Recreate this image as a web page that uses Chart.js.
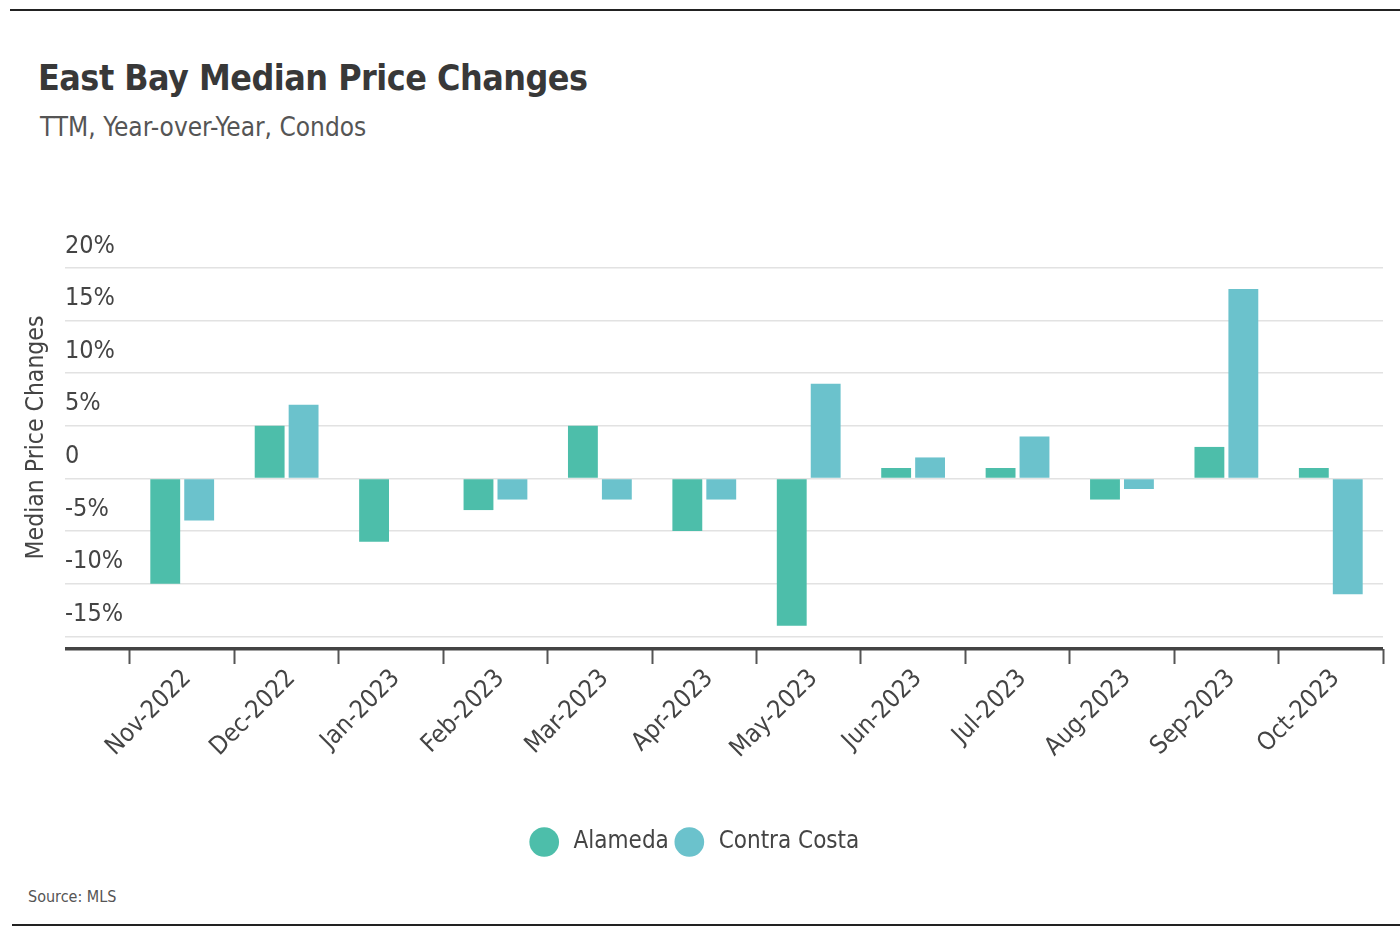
<!DOCTYPE html>
<html>
<head>
<meta charset="utf-8">
<script src="https://cdn.jsdelivr.net/npm/chart.js@4.4.0/dist/chart.umd.min.js"></script>
<style>
  body { margin: 0; background: #fff; font-family: 'DejaVu Sans Condensed', 'DejaVu Sans', sans-serif; }
  #wrap { position: relative; width: 1400px; height: 938px; overflow: hidden; }
  .rule { position: absolute; left: 10px; right: 0; height: 2px; background: #222; }
  #title, #subtitle, #source { position: absolute; line-height: 1; white-space: nowrap; }
  #title { left: 38px; top: 60px; font-size: 35.5px; font-weight: bold; color: #383838; letter-spacing: -0.5px; }
  #subtitle { left: 40px; top: 114px; font-size: 26px; color: #555; }
  #source { left: 28px; top: 889px; font-size: 16px; color: #555; }
  #box { position: absolute; left: 0; top: 170px; width: 1400px; height: 710px; }
</style>
</head>
<body>
<div id="wrap">
  <div class="rule" style="top:9px"></div>
  <div id="title">East Bay Median Price Changes</div>
  <div id="subtitle">TTM, Year-over-Year, Condos</div>
  <div id="box"><canvas id="priceChart"></canvas></div>
  <div id="source">Source: MLS</div>
  <div class="rule" style="top:924px; left:12px"></div>
</div>
<script>
// data
const months = ['Nov-2022', 'Dec-2022', 'Jan-2023', 'Feb-2023', 'Mar-2023', 'Apr-2023',
                'May-2023', 'Jun-2023', 'Jul-2023', 'Aug-2023', 'Sep-2023', 'Oct-2023'];
const alameda = [-10, 5, -6, -3, 5, -5, -14, 1, 1, -2, 3, 1];
const contraCosta = [-4, 7, 0, -2, -2, -2, 9, 2, 4, -1, 18, -11];
const yTicks = [-15, -10, -5, 0, 5, 10, 15, 20];
const yMin = -16.2;
const yMax = 20;

const fontFam = "'DejaVu Sans Condensed', 'DejaVu Sans', sans-serif";
const isBase = ctx => ctx.tick && ctx.tick.value === yMin;

const ctxPrice = document.getElementById('priceChart').getContext('2d');
new Chart(ctxPrice, {
    type: 'bar',
    data: {
        labels: months,
        datasets: [{
            label: 'Alameda',
            data: alameda,
            backgroundColor: '#4dbeaa',
            categoryPercentage: 0.65,
            barPercentage: 0.88
        }, {
            label: 'Contra Costa',
            data: contraCosta,
            backgroundColor: '#6bc2cc',
            categoryPercentage: 0.65,
            barPercentage: 0.88
        }]
    },
    options: {
        responsive: true,
        maintainAspectRatio: false,
        animation: false,
        layout: { padding: { top: 98, left: 10, right: 17, bottom: 16 } },
        plugins: {
            legend: {
                position: 'bottom',
                labels: {
                    usePointStyle: true,
                    pointStyle: 'circle',
                    boxWidth: 21,
                    boxHeight: 21,
                    padding: 10,
                    color: '#444',
                    font: { family: fontFam, size: 24 },
                    // a bit more room between the dot and the name
                    generateLabels: chart => Chart.defaults.plugins.legend.labels.generateLabels(chart)
                        .map(l => Object.assign(l, { text: ' ' + l.text }))
                }
            },
            tooltip: { enabled: false }
        },
        scales: {
            x: {
                border: { display: false },
                grid: {
                    drawOnChartArea: false,
                    tickLength: 15,
                    tickColor: '#555',
                    tickWidth: 2
                },
                ticks: {
                    minRotation: 45,
                    maxRotation: 45,
                    padding: 0,
                    labelOffset: 5,
                    color: '#444',
                    font: { family: fontFam, size: 25 }
                },
                afterFit: s => { s.height = 171; }
            },
            y: {
                min: yMin,
                max: yMax,
                border: { display: false },
                afterBuildTicks: s => {
                    s.ticks = [{ value: yMin }].concat(yTicks.map(v => ({ value: v })));
                },
                afterFit: s => { s.width = 120; },
                grid: {
                    color: ctx => isBase(ctx) ? '#444' : '#e2e2e2',
                    lineWidth: ctx => isBase(ctx) ? 3.5 : 1.5,
                    tickColor: ctx => isBase(ctx) ? '#444' : '#e2e2e2',
                    tickWidth: ctx => isBase(ctx) ? 3.5 : 1.5,
                    tickLength: 65
                },
                ticks: {
                    mirror: true,
                    crossAlign: 'near',
                    padding: -65,
                    labelOffset: -22,
                    color: '#444',
                    font: { family: fontFam, size: 25 },
                    callback: v => v === yMin ? '' : (v === 0 ? '0' : v + '%')
                },
                title: {
                    display: true,
                    // leading spaces nudge the rotated title up a little, like the original
                    text: '      Median Price Changes',
                    color: '#444',
                    font: { family: fontFam, size: 24.5 },
                    padding: { top: 12, bottom: 10 }
                }
            }
        }
    }
});
</script>
</body>
</html>
